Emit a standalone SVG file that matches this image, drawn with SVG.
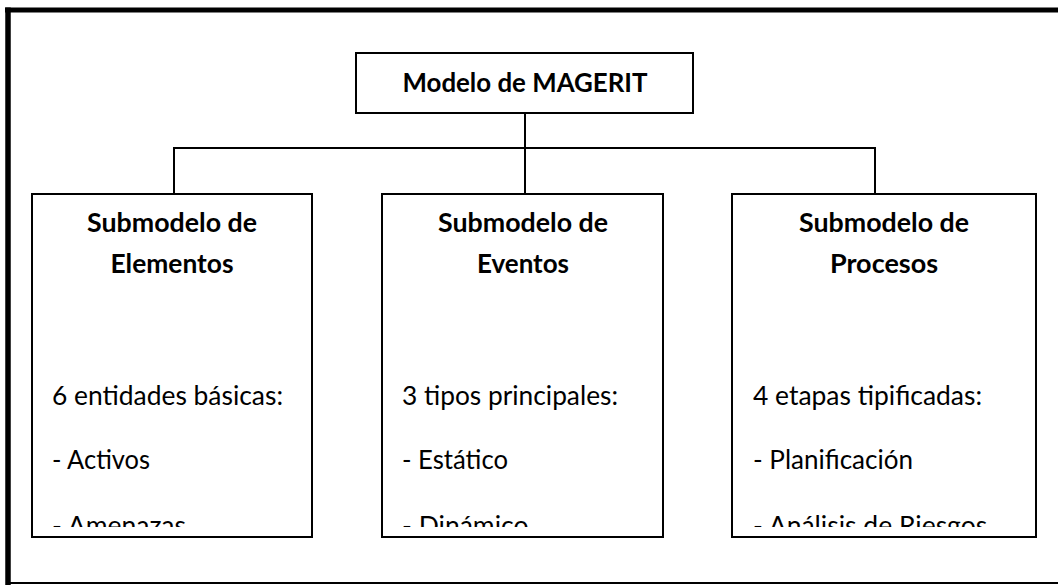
<svg xmlns="http://www.w3.org/2000/svg" width="1058" height="585" viewBox="0 0 1058 585">
<style>
.frame{fill:none;stroke:#000}
.box{fill:#fff;stroke:#000;stroke-width:2}
.conn{fill:none;stroke:#000;stroke-width:2}
.t{font-family:Lato,"Noto Sans",sans-serif;font-size:26.5px;fill:#000}
.h{font-weight:bold;font-size:27px;text-anchor:middle}
</style>
<defs>
<clipPath id="c1"><rect x="33" y="195" width="278" height="332"/></clipPath>
<clipPath id="c2"><rect x="383" y="195" width="279" height="332"/></clipPath>
<clipPath id="c3"><rect x="733" y="195" width="302" height="332"/></clipPath>
</defs>
<rect width="1058" height="585" fill="#fff"/>
<g id="frame">
<line class="frame" x1="5" y1="10" x2="1058" y2="10" stroke-width="5"/>
<line class="frame" x1="8" y1="7.5" x2="8" y2="585" stroke-width="5.5"/>
<line class="frame" x1="8" y1="583" x2="1058" y2="583" stroke-width="2"/>
</g>
<g id="connectors">
<path class="conn" d="M525 113 V148 M174 194 V148 H875 V194 M525 148 V194"/>
</g>
<g id="node-modelo">
<rect class="box" x="356" y="53" width="337" height="60"/>
<text class="t h" x="525" y="92" textLength="245" lengthAdjust="spacingAndGlyphs">Modelo de MAGERIT</text>
</g>
<g id="node-elementos">
<rect class="box" x="32" y="194" width="280" height="343"/>
<text class="t h" x="172" y="232" textLength="170" lengthAdjust="spacingAndGlyphs">Submodelo de</text>
<text class="t h" x="172" y="273" textLength="123" lengthAdjust="spacingAndGlyphs">Elementos</text>
<g clip-path="url(#c1)">
<text class="t" x="52" y="405" textLength="231" lengthAdjust="spacingAndGlyphs">6 entidades básicas:</text>
<text class="t" x="52" y="469" textLength="98" lengthAdjust="spacingAndGlyphs">- Activos</text>
<text class="t" x="52" y="535">- Amenazas</text>
</g>
</g>
<g id="node-eventos">
<rect class="box" x="382" y="194" width="281" height="343"/>
<text class="t h" x="523" y="232" textLength="170" lengthAdjust="spacingAndGlyphs">Submodelo de</text>
<text class="t h" x="523" y="273" textLength="92" lengthAdjust="spacingAndGlyphs">Eventos</text>
<g clip-path="url(#c2)">
<text class="t" x="402" y="405" textLength="216" lengthAdjust="spacingAndGlyphs">3 tipos principales:</text>
<text class="t" x="402" y="469" textLength="106" lengthAdjust="spacingAndGlyphs">- Estático</text>
<text class="t" x="402" y="535">- Dinámico</text>
</g>
</g>
<g id="node-procesos">
<rect class="box" x="732" y="194" width="304" height="343"/>
<text class="t h" x="884" y="232" textLength="170" lengthAdjust="spacingAndGlyphs">Submodelo de</text>
<text class="t h" x="884" y="273">Procesos</text>
<g clip-path="url(#c3)">
<text class="t" x="753" y="405" textLength="229" lengthAdjust="spacingAndGlyphs">4 etapas tipificadas:</text>
<text class="t" x="753" y="469" textLength="160" lengthAdjust="spacingAndGlyphs">- Planificación</text>
<text class="t" x="753" y="535">- Análisis de Riesgos</text>
</g>
</g>
</svg>
